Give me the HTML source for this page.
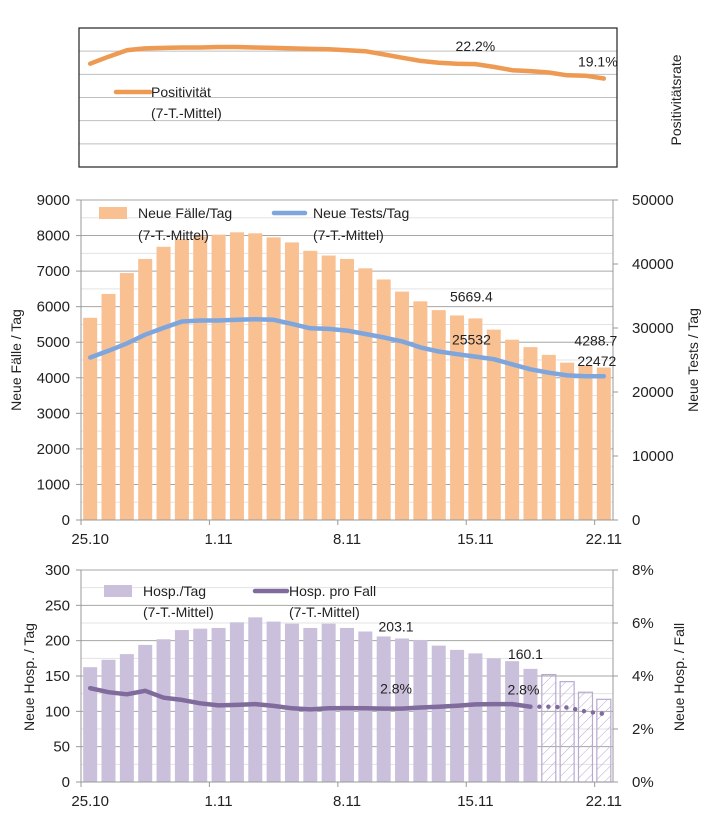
<!DOCTYPE html>
<html><head><meta charset="utf-8"><style>
html,body{margin:0;padding:0;background:#fff}
svg{display:block;font-family:"Liberation Sans",sans-serif}
</style></head><body>
<svg id="chart" width="709" height="833" viewBox="0 0 709 833" xmlns="http://www.w3.org/2000/svg">
<defs>
<pattern id="hatch" patternUnits="userSpaceOnUse" width="7" height="7" patternTransform="rotate(45)">
<line x1="0" y1="0" x2="0" y2="7" stroke="#b8a9d0" stroke-width="1"/>
</pattern>
</defs>
</svg>
<script>
var dates = ["25.10","1.11","8.11","15.11","22.11"];
var positivity = [22.3,23.8,25.2,25.6,25.7,25.8,25.8,25.9,25.9,25.8,25.7,25.6,25.5,25.4,25.2,25.0,24.3,23.6,22.9,22.5,22.3,22.2,21.6,20.9,20.7,20.4,19.8,19.7,19.1];
var cases = [5686,6358,6945,7343,7684,7902,7977,8025,8091,8063,7949,7807,7570,7438,7343,7078,6765,6424,6150,5903,5752,5669.4,5354,5070,4862,4644,4426,4331,4288.7];
var tests = [25383,26435,27592,28960,30012,31011,31169,31169,31274,31380,31274,30643,29959,29854,29591,29065,28539,27908,26961,26330,25909,25532,25120,24331,23542,23016,22595,22472,22472];
var hosp = [162.5,173,181,194,202,215,217,218,226,233,227,224,218,224,218,213,206,203.1,201,193,187,182,175,171,160.1,152,142,127,117];
var hospRate = [3.54,3.39,3.31,3.44,3.18,3.10,2.97,2.89,2.91,2.94,2.87,2.78,2.74,2.78,2.79,2.78,2.77,2.77,2.81,2.84,2.88,2.93,2.94,2.94,2.84,2.84,2.81,2.66,2.57];
var solidCount = 25;
var caseTicks = [0,1000,2000,3000,4000,5000,6000,7000,8000,9000];
var testTicks = [0,10000,20000,30000,40000,50000];
var hospTicks = [0,50,100,150,200,250,300];
var rateTicks = ["0%","2%","4%","6%","8%"];

var svg = document.getElementById('chart');
var NS = "http://www.w3.org/2000/svg";
function mk(tag, attrs, parent){ var e=document.createElementNS(NS,tag); for(var k in attrs) e.setAttribute(k,attrs[k]); (parent||svg).appendChild(e); return e; }
function txt(s, x, y, attrs){ var e=mk('text', Object.assign({x:x,y:y,'font-size':15,fill:'#222'}, attrs||{})); e.textContent=s; return e; }

var X0 = 81, X1 = 613, N = cases.length, step = (X1-X0)/N;
function xc(i){ return X0 + (i+0.5)*step; }
function xb(i){ return X0 + i*step; }

// ---------- Panel 1 ----------
var P1T = 28, P1B = 167;
function yPos(v){ return P1B - v/30*(P1B-P1T); }
var g1 = mk('g',{});


for (var k=1;k<6;k++){ var gy=yPos(k*5); var gl=mk('line',{x1:79,x2:617,y1:gy,y2:gy,stroke:'#bfbfbf','stroke-width':1},g1);   }
var frame = mk('rect',{x:79,y:P1T,width:538,height:P1B-P1T,fill:'none',stroke:'#222','stroke-width':1.2},g1);


var pp = positivity.map(function(v,i){return xc(i).toFixed(1)+','+yPos(v).toFixed(1);}).join(' ');
var pl = mk('polyline',{points:pp,fill:'none',stroke:'#ee9a52','stroke-width':4.5,'stroke-linejoin':'round','stroke-linecap':'round'},g1);


var l1 = txt(positivity[21].toFixed(1)+'%', xc(21), yPos(positivity[21])-13, {'text-anchor':'middle','font-size':14});


var l2 = txt(positivity[28].toFixed(1)+'%', xc(28)-6, yPos(positivity[28])-12, {'text-anchor':'middle','font-size':14});


var lg1 = mk('line',{x1:116,x2:150,y1:92,y2:92,stroke:'#ee9a52','stroke-width':4.5,'stroke-linecap':'round'});


var lt1 = txt('Positivität',151,97,{'font-size':14});  
var lt1b = txt('(7-T.-Mittel)',151,118,{'font-size':14});  
var t1 = txt('Positivitätsrate',0,0,{'font-size':14,'text-anchor':'middle',transform:'translate(681,100) rotate(-90)'});
 

// ---------- Panel 2 ----------
var P2T = 200, P2B = 520;
function yC(v){ return P2B - v/9000*(P2B-P2T); }
function yT(v){ return P2B - v/50000*(P2B-P2T); }
for (var m=500;m<=9000;m+=500){
  var gy=yC(m); var maj=(m%1000===0);
  var gl=mk('line',{x1:X0,x2:X1,y1:gy,y2:gy,stroke:maj?'#a6a6a6':'#e3e3e3','stroke-width':1});
  
  
}
cases.forEach(function(v,i){
  var b=mk('rect',{x:xc(i)-7,y:yC(v),width:14,height:P2B-yC(v),fill:'#f9c092'});
  
  
});
var tp = tests.map(function(v,i){return xc(i).toFixed(1)+','+yT(v).toFixed(1);}).join(' ');
var tl = mk('polyline',{points:tp,fill:'none',stroke:'#7ea6dc','stroke-width':4.5,'stroke-linejoin':'round','stroke-linecap':'round'});


mk('line',{x1:X0,x2:X0,y1:P2T,y2:P2B,stroke:'#999'});
mk('line',{x1:X1,x2:X1,y1:P2T,y2:P2B,stroke:'#999'});
mk('line',{x1:X0,x2:X1,y1:P2B,y2:P2B,stroke:'#999'});
caseTicks.forEach(function(v){
  mk('line',{x1:X0-5,x2:X0,y1:yC(v),y2:yC(v),stroke:'#999'});
  var t=txt(String(v),X0-11,yC(v)+5,{'text-anchor':'end'});
   
});
testTicks.forEach(function(v){
  mk('line',{x1:X1,x2:X1+5,y1:yT(v),y2:yT(v),stroke:'#999'});
  var t=txt(String(v),632,yT(v)+5,{});
   
});
dates.forEach(function(d,j){
  var i=j*7; mk('line',{x1:xb(i),x2:xb(i),y1:P2B,y2:P2B+5,stroke:'#999'});
  var t=txt(d,xc(i),P2B+24,{'text-anchor':'middle'});
   
});
var a=txt(String(cases[21]),xc(21)-4,yC(cases[21])-17,{'text-anchor':'middle','font-size':14});  
var b2=txt(String(tests[21]),xc(21)-4,yT(tests[21])-12,{'text-anchor':'middle','font-size':14});  
var c2=txt(String(cases[28]),xc(28)-8,yC(cases[28])-22,{'text-anchor':'middle','font-size':14});  
var d2=txt(String(tests[28]),xc(28)-7,yT(tests[28])-10,{'text-anchor':'middle','font-size':14});  
var sw=mk('rect',{x:99,y:207,width:28,height:12,fill:'#f9c092'});  
var lc=txt('Neue Fälle/Tag',138,218,{'font-size':14});  
var lc2=txt('(7-T.-Mittel)',138,240,{'font-size':14});  
var sl=mk('line',{x1:274,x2:305,y1:213,y2:213,stroke:'#7ea6dc','stroke-width':4.5,'stroke-linecap':'round'});  
var lt=txt('Neue Tests/Tag',313,218,{'font-size':14});  
var lt2=txt('(7-T.-Mittel)',313,240,{'font-size':14});  
var ya=txt('Neue Fälle / Tag',0,0,{'font-size':14,'text-anchor':'middle',transform:'translate(21,360) rotate(-90)'});  
var yb=txt('Neue Tests / Tag',0,0,{'font-size':14,'text-anchor':'middle',transform:'translate(698,360) rotate(-90)'});  

// ---------- Panel 3 ----------
var P3T = 570, P3B = 782;
function yH(v){ return P3B - v/300*(P3B-P3T); }
function yR(v){ return P3B - v/8*(P3B-P3T); }
for (var m=25;m<=300;m+=25){
  var gy=yH(m); var maj=(m%50===0);
  var gl=mk('line',{x1:X0,x2:X1,y1:gy,y2:gy,stroke:maj?'#a6a6a6':'#e3e3e3','stroke-width':1});
  
  
}
hosp.forEach(function(v,i){
  var solid = i<solidCount;
  var b=mk('rect',{x:xc(i)-7,y:yH(v),width:14,height:P3B-yH(v),fill:solid?'#cbc0dc':'url(#hatch)',stroke:solid?'none':'#b8a9d0','stroke-width':1.2});
  
  
});
var hp = hospRate.slice(0,solidCount).map(function(v,i){return xc(i).toFixed(1)+','+yR(v).toFixed(1);}).join(' ');
var hl = mk('polyline',{points:hp,fill:'none',stroke:'#7f6b9c','stroke-width':4.5,'stroke-linejoin':'round','stroke-linecap':'round'});


var hp2 = hospRate.slice(solidCount-1).map(function(v,i){return xc(i+solidCount-1).toFixed(1)+','+yR(v).toFixed(1);}).join(' ');
var hl2 = mk('polyline',{points:hp2,fill:'none',stroke:'#7f6b9c','stroke-width':4.5,'stroke-dasharray':'0 9','stroke-linecap':'round'});


mk('line',{x1:X0,x2:X0,y1:P3T,y2:P3B,stroke:'#999'});
mk('line',{x1:X1,x2:X1,y1:P3T,y2:P3B,stroke:'#999'});
mk('line',{x1:X0,x2:X1,y1:P3B,y2:P3B,stroke:'#999'});
hospTicks.forEach(function(v){
  mk('line',{x1:X0-5,x2:X0,y1:yH(v),y2:yH(v),stroke:'#999'});
  var t=txt(String(v),X0-11,yH(v)+5,{'text-anchor':'end'});
   
});
rateTicks.forEach(function(s,j){
  var v=j*2; mk('line',{x1:X1,x2:X1+5,y1:yR(v),y2:yR(v),stroke:'#999'});
  var t=txt(s,632,yR(v)+5,{});
   
});
dates.forEach(function(d,j){
  var i=j*7; mk('line',{x1:xb(i),x2:xb(i),y1:P3B,y2:P3B+5,stroke:'#999'});
  var t=txt(d,xc(i),P3B+24,{'text-anchor':'middle'});
   
});
var h1=txt(String(hosp[17]),xc(17)-6,yH(hosp[17])-7,{'text-anchor':'middle','font-size':14});  
var h2=txt(String(hosp[24]),xc(24)-5,yH(hosp[24])-10,{'text-anchor':'middle','font-size':14});  
var r1=txt(hospRate[17].toFixed(1)+'%',xc(17)-6,yR(hospRate[17])-15,{'text-anchor':'middle','font-size':14});  
var r2=txt(hospRate[24].toFixed(1)+'%',xc(24)-7,yR(hospRate[24])-12,{'text-anchor':'middle','font-size':14});  
var sw3=mk('rect',{x:104,y:585,width:28,height:12,fill:'#cbc0dc'});  
var lh=txt('Hosp./Tag',143,596,{'font-size':14});  
var lh2=txt('(7-T.-Mittel)',143,617,{'font-size':14});  
var sl3=mk('line',{x1:255,x2:287,y1:591,y2:591,stroke:'#7f6b9c','stroke-width':4.5,'stroke-linecap':'round'});  
var lr=txt('Hosp. pro Fall',289,596,{'font-size':14});  
var lr2=txt('(7-T.-Mittel)',289,617,{'font-size':14});  
var yc=txt('Neue Hosp. / Tag',0,0,{'font-size':14,'text-anchor':'middle',transform:'translate(34,677) rotate(-90)'});  
var yd=txt('Neue Hosp. / Fall',0,0,{'font-size':14,'text-anchor':'middle',transform:'translate(684,677) rotate(-90)'});  
</script>
</body></html>
